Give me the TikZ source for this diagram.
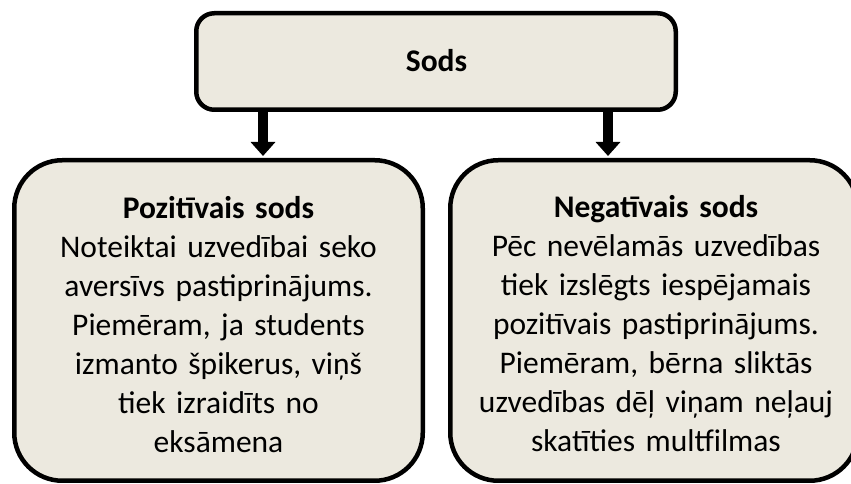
\documentclass[tikz,border=0pt]{standalone}
\usepackage{fontspec}
\setmainfont{Carlito}
\usetikzlibrary{arrows.meta}
\definecolor{boxfill}{RGB}{236,233,223}
\tikzset{
  boxshape/.style={draw=black, line width=4.5pt, fill=boxfill, inner sep=0pt},
  bigbox/.style={boxshape, rounded corners=48pt, minimum height=320.5pt},
  txt/.style={anchor=base, align=center, text width=400pt, inner sep=0pt,
    font=\fontsize{31.5}{39}\selectfont},
  arr/.style={line width=10pt, -{Triangle[width=24pt,length=14pt]}, shorten >=2pt}
}
\begin{document}
\begin{tikzpicture}[x=1pt,y=1pt]
\useasboundingbox (0,0) rectangle (851,484);
\begin{scope}
\clip (0,0) rectangle (851,484);
\node[boxshape, rounded corners=18pt, minimum width=479.5pt, minimum height=96.5pt] (top) at (436,422.5) {};
\node[bigbox, minimum width=408.5pt] (left) at (218.5,163.5) {};
\node[bigbox, minimum width=407.5pt] (right) at (654,163.5) {};
\node[anchor=base, inner sep=0pt, font=\fontsize{31.5}{39}\selectfont\bfseries] (toptxt) at (436.5,412) {Sods};
\node[txt] (lefttxt) at (218.5,265) {\textbf{Pozitīvais sods}\\Noteiktai uzvedībai seko\\aversīvs pastiprinājums.\\Piemēram, ja students\\izmanto špikerus, viņš\\tiek izraidīts no\\eksāmena};
\node[txt] (righttxt) at (656,266) {\textbf{Negatīvais sods}\\Pēc nevēlamās uzvedības\\tiek izslēgts iespējamais\\pozitīvais pastiprinājums.\\Piemēram, bērna sliktās\\uzvedības dēļ viņam neļauj\\skatīties multfilmas};
\coordinate (xa) at (263,0);
\coordinate (xb) at (608,0);
\draw[arr] (top.south -| xa) -- (left.north -| xa);
\draw[arr] (top.south -| xb) -- (right.north -| xb);
\end{scope}
\end{tikzpicture}
\end{document}
